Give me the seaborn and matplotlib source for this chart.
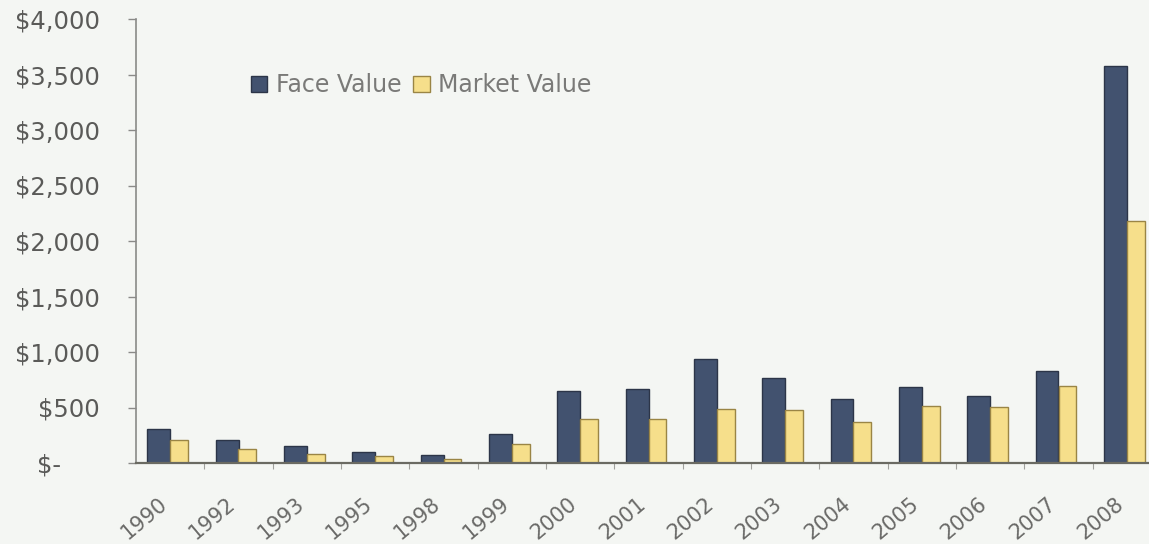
import numpy as np
import pandas as pd
import matplotlib.pyplot as plt
import matplotlib.transforms as mtransforms
from matplotlib.ticker import FuncFormatter, FixedLocator
import seaborn as sns

# data
years = ['1990', '1992', '1993', '1995', '1998', '1999', '2000', '2001',
         '2002', '2003', '2004', '2005', '2006', '2007', '2008']
face_value = [305, 205, 155, 95, 70, 260, 650, 670, 935, 770, 575, 685, 600, 830, 3580]
market_value = [205, 130, 85, 65, 40, 170, 400, 400, 490, 480, 370, 510, 505, 690, 2180]

df = pd.DataFrame({
    'year': years * 2,
    'value': face_value + market_value,
    'series': ['Face Value'] * len(years) + ['Market Value'] * len(years),
})

sns.set_theme(style='white')
plt.rcParams['font.family'] = ['DejaVu Sans']

bg = '#f4f6f3'
edge = {'Face Value': '#2c3548', 'Market Value': '#9a8545'}
fig = plt.figure(figsize=(11.49, 5.44), dpi=100)
fig.patch.set_facecolor(bg)
# axes run a little past the right edge, like the cropped scan
ax = fig.add_axes([136 / 1149, 1 - 463 / 544, (1161 - 136) / 1149, 444 / 544])
ax.set_facecolor(bg)

sns.barplot(data=df, x='year', y='value', hue='series',
            palette={'Face Value': '#42526f', 'Market Value': '#f6df8b'},
            width=0.672, saturation=1, linewidth=1, ax=ax)

for p in ax.containers[0]:
    p.set_edgecolor(edge['Face Value'])
for p in ax.containers[1]:
    p.set_edgecolor(edge['Market Value'])
    p.set_width(p.get_width() * 0.78)

ax.set_xlim(-0.5, 14.5)
ax.set_ylim(0, 4000)
ax.set_yticks(np.arange(0, 4001, 500))


def money(v, pos):
    if v == 0:
        return '$-     '
    return f'${v:,.0f}'


ax.yaxis.set_major_formatter(FuncFormatter(money))
ax.set_xlabel('')
ax.set_ylabel('')

for side in ['top', 'right']:
    ax.spines[side].set_visible(False)
ax.spines['left'].set_color('#8a8a88')
ax.spines['left'].set_linewidth(1.2)
ax.spines['bottom'].set_color('#6a6a62')
ax.spines['bottom'].set_linewidth(1.6)

ax.tick_params(axis='y', direction='out', length=6, width=1, color='#8a8a88',
               pad=20, labelsize=17.5, labelcolor='#5a5a58', left=True)
ax.tick_params(axis='x', which='major', length=0, pad=22, labelsize=15,
               labelcolor='#6a6a68')
ax.xaxis.set_minor_locator(FixedLocator(np.arange(0.5, 14, 1)))
ax.tick_params(axis='x', which='minor', direction='out', length=4, width=0.8,
               color='#a0a09c', bottom=True)

shift = mtransforms.ScaledTranslation(-0.12, 0, fig.dpi_scale_trans)
for lab in ax.get_xticklabels():
    lab.set_rotation(40)
    lab.set_ha('right')
    lab.set_rotation_mode('anchor')
    lab.set_transform(lab.get_transform() + shift)

handles, labels = ax.get_legend_handles_labels()
leg = ax.legend(handles, labels, loc='center left', bbox_to_anchor=(0.112, 0.851),
                ncol=2, frameon=False, fontsize=17, labelcolor='#7a7a78',
                handlelength=0.7, handleheight=0.7, handletextpad=0.35,
                columnspacing=0.5, borderpad=0, borderaxespad=0)
for h, name in zip(leg.legend_handles, labels):
    h.set_edgecolor(edge[name])
    h.set_linewidth(1)

fig.savefig('out.png', dpi=100, facecolor=fig.get_facecolor())
